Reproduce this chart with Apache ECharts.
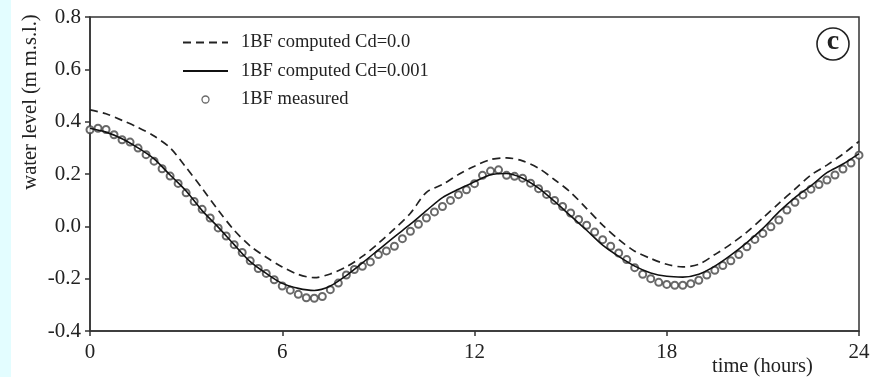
<!DOCTYPE html>
<html>
<head>
<meta charset="utf-8">
<script src="https://cdn.jsdelivr.net/npm/echarts@6/dist/echarts.min.js"></script>
<style>
  html, body { margin: 0; padding: 0; background: #fff; }
  #chart { width: 883px; height: 377px; }
</style>
</head>
<body>
<div id="chart"></div>
<script>
// hours, half-hour steps for the computed lines
var tLine = [0,0.5,1,1.5,2,2.5,3,3.5,4,4.5,5,5.5,6,6.5,7,7.5,8,8.5,9,9.5,10,10.5,11,11.5,12,
    12.5,13,13.5,14,14.5,15,15.5,16,16.5,17,17.5,18,18.5,19,19.5,20,20.5,21,21.5,22,22.5,23,23.5,24];
var cd0 = [0.445,0.430,0.405,0.378,0.345,0.300,0.225,0.145,0.062,-0.015,-0.075,-0.118,-0.155,-0.184,-0.196,
    -0.182,-0.155,-0.115,-0.065,-0.010,0.050,0.130,0.160,0.198,0.230,0.255,0.262,0.250,0.222,0.178,0.130,
    0.068,0.005,-0.050,-0.095,-0.123,-0.145,-0.155,-0.145,-0.108,-0.068,-0.022,0.032,0.088,0.142,0.196,
    0.234,0.276,0.325];
var cd001 = [0.375,0.360,0.335,0.300,0.258,0.196,0.135,0.060,-0.003,-0.070,-0.135,-0.180,-0.218,-0.237,-0.245,
    -0.228,-0.188,-0.140,-0.090,-0.040,0.008,0.060,0.110,0.142,0.170,0.197,0.202,0.184,0.146,0.095,0.040,
    -0.015,-0.072,-0.115,-0.152,-0.178,-0.191,-0.194,-0.183,-0.152,-0.110,-0.062,-0.008,0.055,0.110,0.155,
    0.205,0.238,0.278];
// measured, every quarter hour from 0 to 24
var tMeas = [];
for (var i = 0; i <= 96; i++) tMeas.push(i * 0.25);
var measured = [0.369,0.375,0.370,0.350,0.331,0.322,0.299,0.274,0.249,0.220,0.192,0.164,0.128,0.095,0.065,0.032,
    -0.006,-0.037,-0.070,-0.100,-0.132,-0.161,-0.180,-0.204,-0.228,-0.244,-0.260,-0.273,-0.275,-0.268,-0.242,-0.217,
    -0.186,-0.165,-0.153,-0.136,-0.108,-0.094,-0.076,-0.047,-0.019,0.008,0.032,0.055,0.076,0.099,0.121,0.140,
    0.163,0.195,0.211,0.216,0.195,0.191,0.184,0.165,0.144,0.122,0.099,0.076,0.051,0.026,0.004,-0.022,
    -0.051,-0.076,-0.102,-0.127,-0.158,-0.183,-0.200,-0.214,-0.222,-0.225,-0.225,-0.219,-0.206,-0.186,-0.168,-0.150,
    -0.132,-0.108,-0.078,-0.050,-0.027,-0.002,0.024,0.062,0.092,0.120,0.142,0.160,0.177,0.196,0.219,0.242,0.272];

function pairs(xs, ys) {
    var out = [];
    for (var i = 0; i < xs.length; i++) out.push([xs[i], ys[i]]);
    return out;
}

var font = 'Liberation Serif';
var myChart = echarts.init(document.getElementById('chart'));
var option = {
    backgroundColor: '#FFFFFF',
    animation: false,
    grid: {
        left: 90, right: 24, top: 17, bottom: 46,
        show: true, borderColor: '#333', borderWidth: 1.5
    },
    legend: {
        orient: 'vertical',
        left: 177, top: 28,
        itemWidth: 45, itemHeight: 7, itemGap: 9.5,
        textStyle: { fontFamily: font, fontSize: 18.5, color: '#222', padding: [0, 0, 0, 8] },
        data: [
            { name: '1BF computed Cd=0.0', itemStyle: { opacity: 0 } },
            { name: '1BF computed Cd=0.001', itemStyle: { opacity: 0 } },
            { name: '1BF measured', icon: 'circle', itemStyle: { color: '#fff', borderColor: '#444', borderWidth: 1.3 } }
        ]
    },
    xAxis: {
        type: 'value', min: 0, max: 24, interval: 6,
        axisLine: { show: true, onZero: false, lineStyle: { color: '#333', width: 1.5 } },
        axisTick: { show: true, inside: false, length: 5, lineStyle: { color: '#333', width: 1.5 } },
        axisLabel: { fontFamily: font, fontSize: 21, color: '#222', margin: 11 },
        splitLine: { show: false }
    },
    yAxis: {
        type: 'value', min: -0.4, max: 0.8, interval: 0.2,
        axisLine: { show: true, onZero: false, lineStyle: { color: '#333', width: 1.5 } },
        axisTick: { show: true, inside: false, length: 5, lineStyle: { color: '#333', width: 1.5 } },
        axisLabel: { fontFamily: font, fontSize: 21, color: '#222', margin: 9,
            formatter: function (v) { return v.toFixed(1); } },
        splitLine: { show: false }
    },
    graphic: [
        { type: 'rect', left: 0, top: 0, shape: { width: 11, height: 377 }, style: { fill: '#E3FDFF' }, silent: true },
        { type: 'text', x: 31, y: 102, rotation: Math.PI / 2, style: {
            text: 'water level (m m.s.l.)', fontFamily: font, fontSize: 20.5, fill: '#222',
            align: 'center', verticalAlign: 'middle' } },
        { type: 'text', left: 712, top: 356, style: {
            text: 'time (hours)', fontFamily: font, fontSize: 20.5, fill: '#222' } },
        { type: 'circle', shape: { cx: 833, cy: 44, r: 16 }, style: { fill: 'none', stroke: '#222', lineWidth: 1.6 } },
        { type: 'text', x: 833, y: 42, style: {
            text: 'c', fontFamily: font, fontSize: 28, fontWeight: 'bold', fill: '#222', align: 'center', verticalAlign: 'middle' } }
    ],
    series: [
        {
            name: '1BF computed Cd=0.0', type: 'line', symbol: 'none', smooth: 0.3,
            lineStyle: { color: '#222', width: 1.7, type: [8, 5] },
            itemStyle: { color: '#222' },
            data: pairs(tLine, cd0)
        },
        {
            name: '1BF computed Cd=0.001', type: 'line', symbol: 'none', smooth: 0.3,
            lineStyle: { color: '#111', width: 1.6 },
            itemStyle: { color: '#111' },
            data: pairs(tLine, cd001)
        },
        {
            name: '1BF measured', type: 'scatter', symbol: 'emptyCircle', symbolSize: 7,
            itemStyle: { color: '#444', borderColor: '#444', borderWidth: 1.3 },
            data: pairs(tMeas, measured)
        }
    ]
};
myChart.setOption(option);
</script>
</body>
</html>
